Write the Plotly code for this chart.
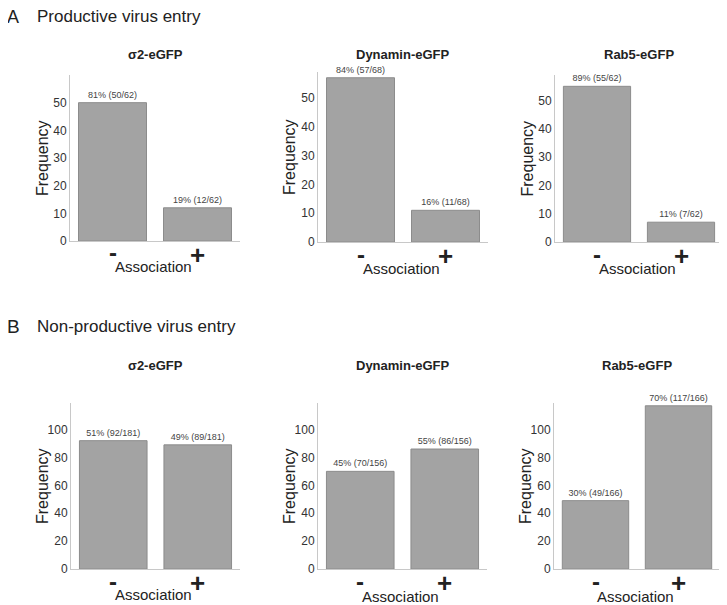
import plotly.graph_objects as go

# page body has an 8px margin: figure is drawn 8px in from the top-left corner
OX, OY = 8, 8
W, H = 727 - OX, 605 - OY

categories = ["-", "+"]
panel_titles = ["σ2-eGFP", "Dynamin-eGFP", "Rab5-eGFP",
                "σ2-eGFP", "Dynamin-eGFP", "Rab5-eGFP"]
values = [[50, 12], [57, 11], [55, 7],
          [92, 89], [70, 86], [49, 117]]
bar_labels = [["81% (50/62)", "19% (12/62)"],
              ["84% (57/68)", "16% (11/68)"],
              ["89% (55/62)", "11% (7/62)"],
              ["51% (92/181)", "49% (89/181)"],
              ["45% (70/156)", "55% (86/156)"],
              ["30% (49/166)", "70% (117/166)"]]
y_max = [60, 59, 59, 119, 119, 119]
y_ticks = [[0, 10, 20, 30, 40, 50], [0, 10, 20, 30, 40, 50], [0, 10, 20, 30, 40, 50],
           [0, 20, 40, 60, 80, 100], [0, 20, 40, 60, 80, 100], [0, 20, 40, 60, 80, 100]]
section_letters = ["A", "B"]
section_titles = ["Productive virus entry", "Non-productive virus entry"]

# layout boxes in page pixels: (x0, x1, ytop, ybottom)
boxes = [(70, 240, 75, 241), (318, 488, 72, 242), (555, 723, 75, 242),
         (71, 240, 403, 569), (318, 487, 403, 569), (554, 720, 403, 569)]
title_y = [54, 54, 54, 365, 365, 365]
assoc_dy = [26, 26, 26, 25, 27, 27]

FONT = "Arial, Liberation Sans, sans-serif"
fig = go.Figure()

def px(x):
    return (x - OX) / W

def py(y):
    return 1 - (y - OY) / H

annotations = []
for i in range(6):
    xa = "x" if i == 0 else f"x{i+1}"
    ya = "y" if i == 0 else f"y{i+1}"
    fig.add_trace(go.Bar(
        x=categories, y=values[i], text=bar_labels[i], textposition="outside",
        textfont=dict(size=9, color="#444444", family=FONT),
        marker=dict(color="#a3a3a3", line=dict(color="#8c8c8c", width=1)),
        cliponaxis=False, xaxis=xa, yaxis=ya, showlegend=False, hoverinfo="skip"))
    x0, x1, yt, yb = boxes[i]
    xkey = "xaxis" if i == 0 else f"xaxis{i+1}"
    ykey = "yaxis" if i == 0 else f"yaxis{i+1}"
    fig.update_layout(**{
        xkey: dict(domain=[px(x0), px(x1)], anchor=ya, range=[-0.5, 1.5],
                   showline=True, linecolor="#c8c8c8", linewidth=1,
                   showgrid=False, zeroline=False, ticks="", showticklabels=False,
                   automargin=False),
        ykey: dict(domain=[py(yb), py(yt)], anchor=xa, range=[0, y_max[i]],
                   tickvals=y_ticks[i], showline=True, linecolor="#c8c8c8", linewidth=1,
                   showgrid=False, zeroline=False, ticks="", automargin=False,
                   tickfont=dict(size=12, color="#333333", family=FONT)),
    })
    # category labels (- / +) below the axis
    for c in categories:
        annotations.append(dict(text=f"<b>{c}</b>", x=c, xref=xa,
                                y=py(yb + 12 if c == "-" else yb + 14),
                                yref="paper", xanchor="center", yanchor="middle", showarrow=False,
                                font=dict(size=26 if c == "+" else 24, color="#222222", family=FONT)))
    cx = (x0 + x1) / 2
    annotations.append(dict(text=f"<b>{panel_titles[i]}</b>", x=px(cx), y=py(title_y[i]),
                            xref="paper", yref="paper", xanchor="center", yanchor="middle",
                            showarrow=False,
                            font=dict(size=13, color="#222222", family=FONT)))
    annotations.append(dict(text="Association", x=px(cx - 2), y=py(yb + assoc_dy[i]),
                            xref="paper", yref="paper", xanchor="center", yanchor="middle",
                            showarrow=False,
                            font=dict(size=15, color="#222222", family=FONT)))
    annotations.append(dict(text="Frequency", x=px(x0 - 28), y=py((yt + yb) / 2),
                            xref="paper", yref="paper", xanchor="center", yanchor="middle",
                            showarrow=False, textangle=-90,
                            font=dict(size=16, color="#222222", family=FONT)))

for j, (letter, title) in enumerate(zip(section_letters, section_titles)):
    yy = 16 if j == 0 else 326
    annotations.append(dict(text=letter, x=px(6), y=py(yy + 1 if j == 0 else yy), xref="paper",
                            yref="paper", xanchor="left", yanchor="middle", showarrow=False,
                            borderpad=0,
                            font=dict(size=18 if j == 0 else 19, color="#222222", family=FONT)))
    annotations.append(dict(text=title, x=px(35), y=py(yy), xref="paper", yref="paper",
                            xanchor="left", yanchor="middle", showarrow=False,
                            font=dict(size=17, color="#222222", family=FONT)))

fig.update_layout(width=W, height=H, margin=dict(l=0, r=0, t=0, b=0),
                  paper_bgcolor="white", plot_bgcolor="white", bargap=0.2,
                  annotations=annotations, font=dict(family=FONT))
fig.write_html("out.html")
